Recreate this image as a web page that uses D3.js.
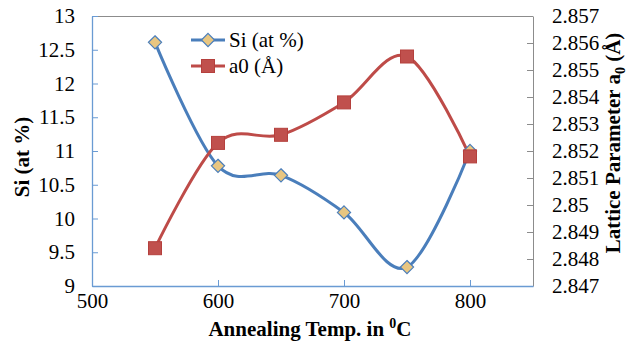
<!DOCTYPE html>
<html>
<head>
<meta charset="utf-8">
<script src="https://cdn.jsdelivr.net/npm/d3@7"></script>
<style>
  body { margin: 0; background: #fff; }
</style>
</head>
<body>
<div id="viz-wrapper"></div>
<script>
  // data
  var temps = [550, 600, 650, 700, 750, 800];
  var siValues = [12.61, 10.78, 10.64, 10.09, 9.28, 11.0];
  var a0Values = [2.8484, 2.8523, 2.8526, 2.8538, 2.8555, 2.8518];

  var xTicks = [500, 600, 700, 800];
  var siTicks = [9, 9.5, 10, 10.5, 11, 11.5, 12, 12.5, 13];
  var a0Ticks = [2.847, 2.848, 2.849, 2.85, 2.851, 2.852, 2.853, 2.854, 2.855, 2.856, 2.857];

  var width = 631,
      height = 344;

  var serif = "'Liberation Serif', 'Times New Roman', serif";

  // plot area edges
  var plotLeft = 92, plotRight = 533, plotTop = 16, plotBottom = 286;

  var blue = "#4a7ebb", red = "#be4b48";

  var viz = d3.select("#viz-wrapper")
    .append("svg")
    .attr("width", width)
    .attr("height", height)
    .attr("font-family", serif);

  var x = d3.scaleLinear().domain([500, 850]).range([plotLeft, plotRight]);
  var ySi = d3.scaleLinear().domain([9, 13]).range([plotBottom, plotTop]);
  var yA = d3.scaleLinear().domain([2.847, 2.857]).range([plotBottom, plotTop]);

  // top border of the plot area
  viz.append("line")
    .attr("x1", plotLeft).attr("x2", plotRight)
    .attr("y1", plotTop + 0.5).attr("y2", plotTop + 0.5)
    .attr("stroke", "#8c8c8c");

  // left axis
  var gl = viz.append("g")
    .attr("transform", "translate(" + plotLeft + ",0)")
    .call(d3.axisLeft(ySi).tickValues(siTicks).tickSizeInner(-6).tickSizeOuter(0).tickPadding(17)
      .tickFormat(function(d) { return d; }));
  gl.attr("font-family", serif).attr("font-size", 21);
  gl.select(".domain").attr("stroke", "#6a9bd3").attr("stroke-width", 1.3);
  gl.selectAll(".tick line").attr("stroke", "#6a9bd3");
  gl.selectAll("text").attr("fill", "#000");

  // right axis
  var gr = viz.append("g")
    .attr("transform", "translate(" + plotRight + ",0)")
    .call(d3.axisRight(yA).tickValues(a0Ticks).tickSizeInner(-6).tickSizeOuter(0).tickPadding(19)
      .tickFormat(function(d) { return d; }));
  gr.attr("font-family", serif).attr("font-size", 21);
  gr.select(".domain").attr("stroke", "#8c8c8c");
  gr.selectAll(".tick line").attr("stroke", "#8c8c8c");
  gr.selectAll("text").attr("fill", "#000");

  // bottom axis
  var gb = viz.append("g")
    .attr("transform", "translate(0," + plotBottom + ")")
    .call(d3.axisBottom(x).tickValues(xTicks).tickSizeInner(-6).tickSizeOuter(0).tickPadding(7));
  gb.attr("font-family", serif).attr("font-size", 21);
  gb.select(".domain").attr("stroke", "#6a9bd3").attr("stroke-width", 1.3);
  gb.selectAll(".tick line").attr("stroke", "#6a9bd3");
  gb.selectAll("text").attr("fill", "#000");

  // axis titles
  var xt = viz.append("text")
    .attr("x", 310).attr("y", 336)
    .attr("text-anchor", "middle")
    .attr("font-size", 21).attr("font-weight", "bold");
  xt.append("tspan").text("Annealing Temp. in ");
  xt.append("tspan").attr("font-size", 14).attr("dy", -8).text("0");
  xt.append("tspan").attr("dy", 8).text("C");

  viz.append("text")
    .attr("transform", "translate(29,157) rotate(-90)")
    .attr("text-anchor", "middle")
    .attr("font-size", 21).attr("font-weight", "bold")
    .text("Si (at %)");

  var yt = viz.append("text")
    .attr("transform", "translate(620,143) rotate(-90)")
    .attr("text-anchor", "middle")
    .attr("font-size", 21).attr("font-weight", "bold");
  yt.append("tspan").text("Lattice Parameter a");
  yt.append("tspan").attr("font-size", 14).attr("dy", 5).text("0");
  yt.append("tspan").attr("dy", -5).text(" (Å)");

  // smooth lines
  var siLine = d3.line()
    .x(function(d, i) { return x(temps[i]); })
    .y(function(d) { return ySi(d); })
    .curve(d3.curveCardinal.tension(0));

  var aLine = d3.line()
    .x(function(d, i) { return x(temps[i]); })
    .y(function(d) { return yA(d); })
    .curve(d3.curveCardinal.tension(0));

  viz.append("path")
    .attr("d", siLine(siValues))
    .attr("fill", "none").attr("stroke", blue).attr("stroke-width", 3);

  viz.append("path")
    .attr("d", aLine(a0Values))
    .attr("fill", "none").attr("stroke", red).attr("stroke-width", 3);

  var diamond = d3.symbol().type(d3.symbolDiamond2).size(110);

  viz.selectAll(".si-dot")
    .data(siValues)
    .enter()
    .append("path")
    .attr("class", "si-dot")
    .attr("d", diamond)
    .attr("transform", function(d, i) { return "translate(" + x(temps[i]) + "," + ySi(d) + ")"; })
    .attr("fill", "#e8c681").attr("stroke", blue).attr("stroke-width", 1.2);

  viz.selectAll(".a0-dot")
    .data(a0Values)
    .enter()
    .append("rect")
    .attr("class", "a0-dot")
    .attr("x", function(d, i) { return x(temps[i]) - 6.5; })
    .attr("y", function(d) { return yA(d) - 6.5; })
    .attr("width", 13).attr("height", 13)
    .attr("fill", "#c0504d").attr("stroke", "#b5403d").attr("stroke-width", 1);

  // legend
  var legend = viz.append("g");
  legend.append("line").attr("x1", 191).attr("x2", 225).attr("y1", 40).attr("y2", 40)
    .attr("stroke", blue).attr("stroke-width", 3);
  legend.append("path").attr("d", diamond)
    .attr("transform", "translate(208,40)")
    .attr("fill", "#e8c681").attr("stroke", blue).attr("stroke-width", 1.2);
  legend.append("text").attr("x", 229).attr("y", 47).attr("font-size", 21).text("Si (at %)");

  legend.append("line").attr("x1", 191).attr("x2", 225).attr("y1", 66).attr("y2", 66)
    .attr("stroke", red).attr("stroke-width", 3);
  legend.append("rect").attr("x", 201.5).attr("y", 59.5).attr("width", 13).attr("height", 13)
    .attr("fill", "#c0504d").attr("stroke", "#b5403d");
  legend.append("text").attr("x", 229).attr("y", 73).attr("font-size", 21).text("a0 (Å)");
</script>
</body>
</html>
